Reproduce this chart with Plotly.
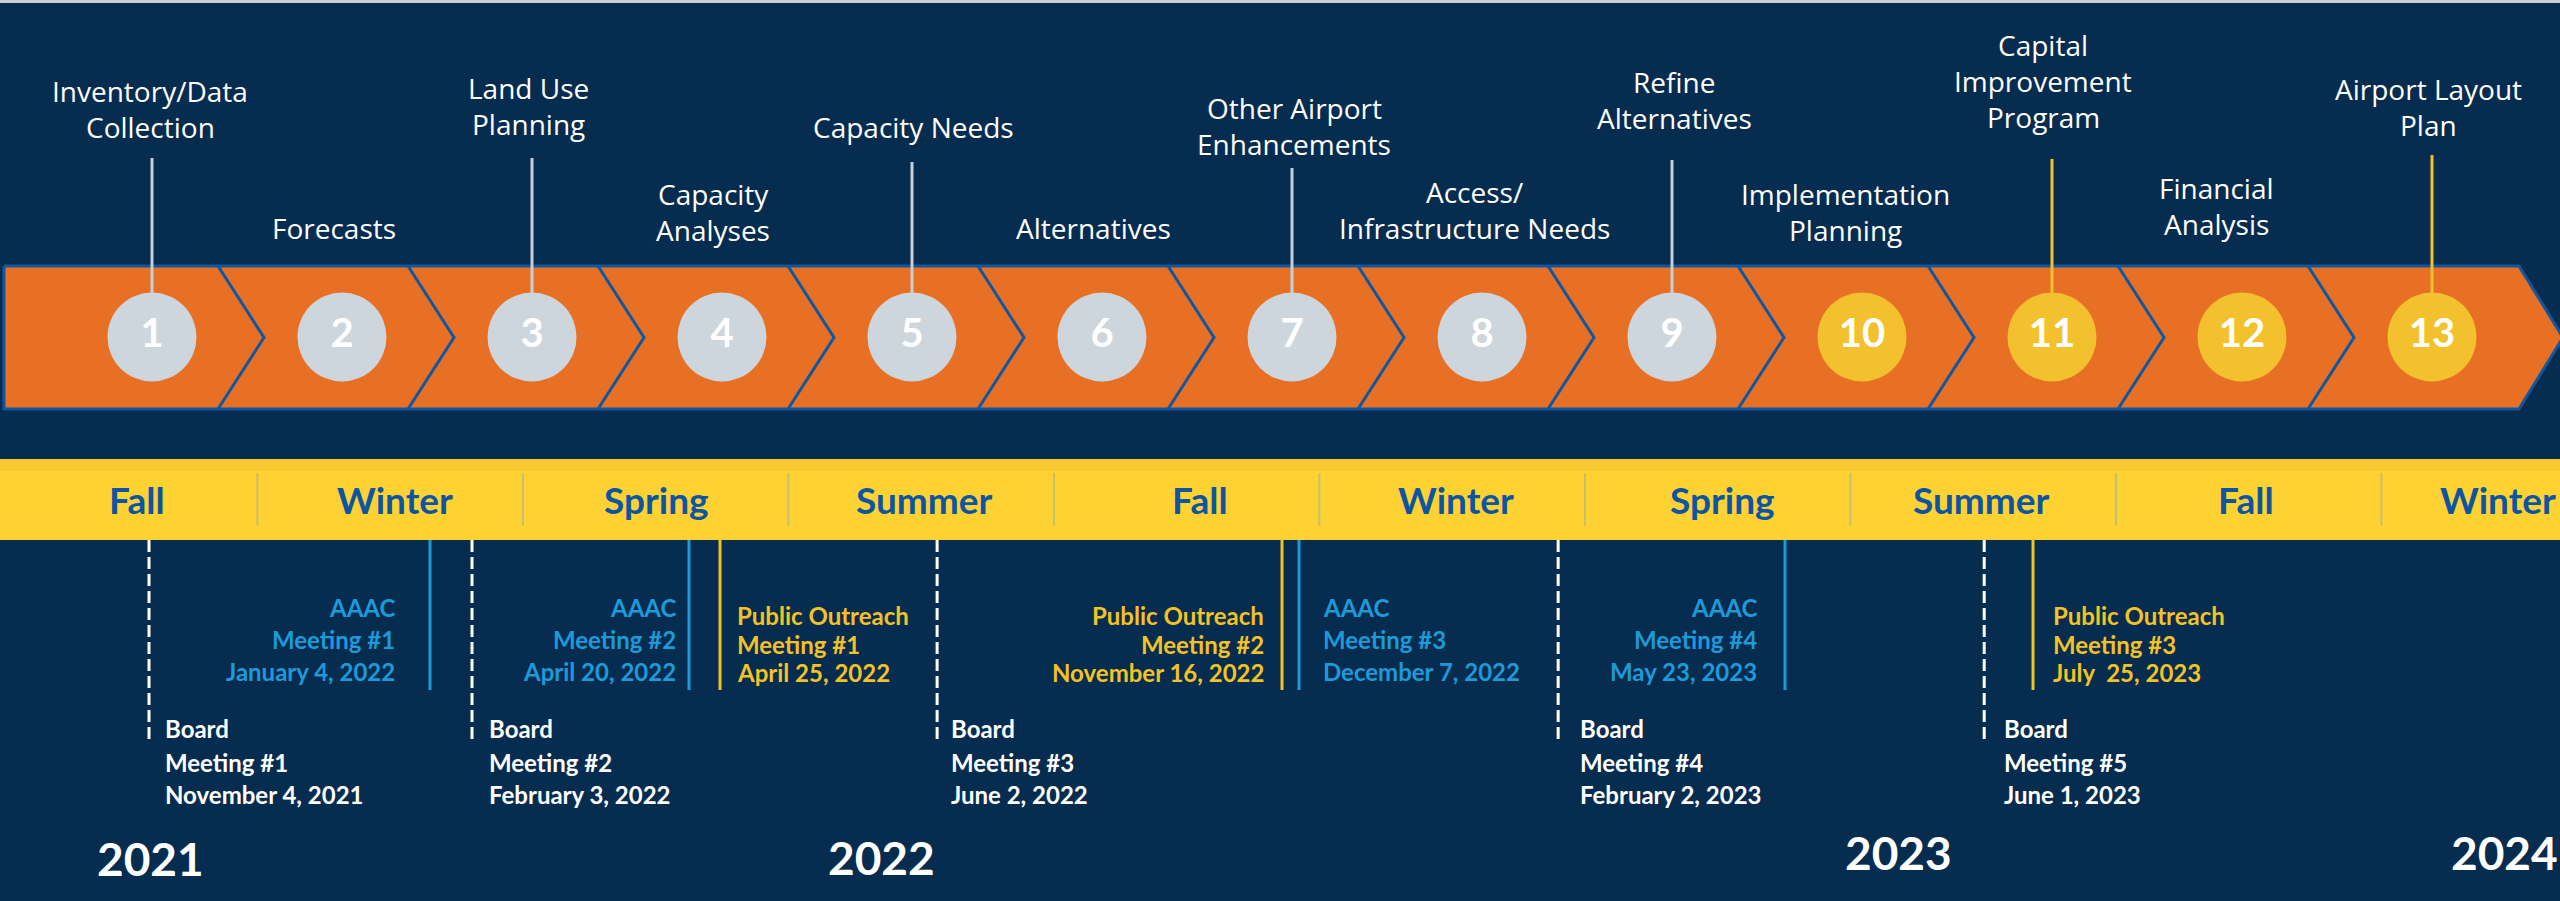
import plotly.graph_objects as go

# ---------------- data ----------------
STEP_NUMBERS = [1, 2, 3, 4, 5, 6, 7, 8, 9, 10, 11, 12, 13]
STEP_LABELS = [
    ["Inventory/Data", "Collection"],
    ["Forecasts"],
    ["Land Use", "Planning"],
    ["Capacity", "Analyses"],
    ["Capacity Needs"],
    ["Alternatives"],
    ["Other Airport", "Enhancements"],
    ["Access/", "Infrastructure Needs"],
    ["Refine", "Alternatives"],
    ["Implementation", "Planning"],
    ["Capital", "Improvement", "Program"],
    ["Financial", "Analysis"],
    ["Airport Layout", "Plan"],
]
STEP_STATUS = ["done", "done", "done", "done", "done", "done", "done", "done", "done",
               "upcoming", "upcoming", "upcoming", "upcoming"]
STEP_HAS_CONNECTOR = [True, False, True, False, True, False, True, False, True,
                      False, True, False, True]

SEASONS = ["Fall", "Winter", "Spring", "Summer", "Fall", "Winter",
           "Spring", "Summer", "Fall", "Winter"]
YEARS = ["2021", "2022", "2023", "2024"]

BOARD_TITLES = ["Board", "Board", "Board", "Board", "Board"]
BOARD_NAMES = ["Meeting #1", "Meeting #2", "Meeting #3", "Meeting #4", "Meeting #5"]
BOARD_DATES = ["November 4, 2021", "February 3, 2022", "June 2, 2022",
               "February 2, 2023", "June 1, 2023"]

AAAC_TITLES = ["AAAC", "AAAC", "AAAC", "AAAC"]
AAAC_NAMES = ["Meeting #1", "Meeting #2", "Meeting #3", "Meeting #4"]
AAAC_DATES = ["January 4, 2022", "April 20, 2022", "December 7, 2022", "May 23, 2023"]

PO_TITLES = ["Public Outreach", "Public Outreach", "Public Outreach"]
PO_NAMES = ["Meeting #1", "Meeting #2", "Meeting #3"]
PO_DATES = ["April 25, 2022", "November 16, 2022", "July\u00a0 25, 2023"]

# ---------------- layout (positions / styles) ----------------
W, H = 2560, 901
BG = "#062c50"
ORANGE = "#e87025"
OUTLINE = "#0f57a0"
GRAY_C = "#ced6dd"
YEL_C = "#f2c12d"
BAND_Y = "#fdd232"
SEASON_TXT = "#0d55a2"
AAAC_C = "#1e9ad8"
PO_C = "#f3c226"
LINE_GRAY = "#c6cfd8"
FONT = "Open Sans"
BOLD_FONT = "Lato"

# step axis: step i centred at 152 + 190*(i-1) px
STEP_RANGE = [0.2, 13.6737]
# season axis: season k centred at 124.65 + 265.5*k px
SEASON_RANGE = [-0.4695, 9.1727]

BAND_TOP, BAND_BOT = 266, 409
BAND_MID = (BAND_TOP + BAND_BOT) / 2
CIRCLE_Y = 337
CIRCLE_D = 89
LABEL_LAST_Y = [127, 228, 124, 230, 127, 228, 144, 228, 118, 230, 117, 224, 125]
LABEL_XSHIFT = [-2, -8, -4, -9, 1, -9, 2, -8, 2, -17, -9, -26, -4]
CONNECTOR_TOP = [158, None, 158, None, 162, None, 168, None, 160, None, 159, None, 155]
LABEL_LINE_H = 36

SEASON_BAND = (459, 540)
SEASON_Y = 499
SEASON_XSHIFT = [12, 5, 1, 3, 13, 4, 5, -2, -3, -16]

BOARD_POS = [0.0917, 1.3083, 3.0601, 5.3993, 7.0040]
BOARD_SHIFT = [14, 15, 12, 20, 18]
BOARD_LINE_Y = (540, 740)
BOARD_TEXT_Y = [728, 762, 794]

AAAC_POS = [1.1501, 2.1256, 4.4232, 6.2537]
AAAC_SHIFT = [-33, -11, 22, -26]
AAAC_ALIGN = ["right", "right", "left", "right"]
AAAC_LINE_Y = (540, 690)
AAAC_TEXT_Y = [607, 639, 671]

PO_POS = [2.2424, 4.3592, 7.1878]
PO_SHIFT = [15, -16, 18]
PO_ALIGN = ["left", "right", "left"]
PO_LINE_Y = (540, 690)
PO_TEXT_Y = [615, 644, 672]

YEAR_POS = [0.0992, 2.8488, 6.6793, 8.9655]
YEAR_Y = [858, 857, 852, 852]

fig = go.Figure()

# orange chevron band
x_left = STEP_RANGE[0] + 4 / 190
x_last_top = 1 + (2519 - 152) / 190
x_tip = 1 + (2563 - 152) / 190
fig.add_trace(go.Scatter(
    x=[x_left, x_last_top, x_tip, x_last_top, x_left, x_left],
    y=[BAND_TOP, BAND_TOP, BAND_MID, BAND_BOT, BAND_BOT, BAND_TOP],
    mode="lines", fill="toself", fillcolor=ORANGE,
    line=dict(color=OUTLINE, width=3), hoverinfo="skip", showlegend=False))

# chevron dividers between steps
dx, dy = [], []
for s in STEP_NUMBERS[:-1]:
    dx += [s + 66 / 190, s + 112 / 190, s + 66 / 190, None]
    dy += [BAND_TOP, BAND_MID, BAND_BOT, None]
fig.add_trace(go.Scatter(x=dx, y=dy, mode="lines",
                         line=dict(color=OUTLINE, width=3),
                         hoverinfo="skip", showlegend=False))

# connectors from labels to circles
for s, has, top, st in zip(STEP_NUMBERS, STEP_HAS_CONNECTOR, CONNECTOR_TOP, STEP_STATUS):
    if not has:
        continue
    fig.add_trace(go.Scatter(
        x=[s, s], y=[top, CIRCLE_Y - CIRCLE_D / 2 + 2], mode="lines",
        line=dict(color=LINE_GRAY if st == "done" else YEL_C, width=3),
        hoverinfo="skip", showlegend=False))

# circles with step numbers
fig.add_trace(go.Scatter(
    x=STEP_NUMBERS, y=[CIRCLE_Y] * len(STEP_NUMBERS),
    mode="markers+text",
    marker=dict(size=CIRCLE_D, color=[GRAY_C if s == "done" else YEL_C for s in STEP_STATUS],
                line=dict(width=0)),
    text=[str(n) for n in STEP_NUMBERS], textposition="middle center",
    textfont=dict(family=BOLD_FONT, size=40, color="white", weight="bold"),
    hoverinfo="skip", showlegend=False))

annotations = []

# step labels
for s, lines, ly, xs in zip(STEP_NUMBERS, STEP_LABELS, LABEL_LAST_Y, LABEL_XSHIFT):
    n = len(lines)
    for k, txt in enumerate(lines):
        annotations.append(dict(
            x=s, y=ly - (n - 1 - k) * LABEL_LINE_H, xref="x", yref="y",
            text=txt, showarrow=False, xanchor="center", yanchor="middle", xshift=xs,
            font=dict(family=FONT, size=28, color="white")))

# season band
shapes = [
    dict(type="rect", xref="paper", yref="y", x0=0, x1=1, y0=0, y1=3,
         fillcolor="#c9ced4", line=dict(width=0), layer="below"),
    dict(type="rect", xref="paper", yref="y", x0=0, x1=1,
         y0=SEASON_BAND[0], y1=SEASON_BAND[1],
         fillcolor=BAND_Y, line=dict(width=0), layer="below"),
    dict(type="rect", xref="paper", yref="y", x0=0, x1=1,
         y0=SEASON_BAND[0], y1=SEASON_BAND[0] + 12,
         fillcolor="#f8c92f", line=dict(width=0), layer="below"),
]
for k in range(len(SEASONS) - 1):
    shapes.append(dict(type="line", xref="x2", yref="y", x0=k + 0.5, x1=k + 0.5,
                       y0=473, y1=526, line=dict(color="#c5c06e", width=2)))
for k, (name, xs) in enumerate(zip(SEASONS, SEASON_XSHIFT)):
    annotations.append(dict(
        x=k, y=SEASON_Y, xref="x2", yref="y", text=name, showarrow=False,
        xanchor="center", yanchor="middle", xshift=xs,
        font=dict(family=BOLD_FONT, size=37, color=SEASON_TXT, weight="bold")))

# meeting lines
def vline(x, y0, y1, color, dash="solid"):
    fig.add_trace(go.Scatter(x=[x, x], y=[y0, y1], xaxis="x2", mode="lines",
                             line=dict(color=color, width=3, dash=dash),
                             hoverinfo="skip", showlegend=False))

for p in BOARD_POS:
    vline(p, BOARD_LINE_Y[0], BOARD_LINE_Y[1], "white", dash="12px,5px")
for p in AAAC_POS:
    vline(p, AAAC_LINE_Y[0], AAAC_LINE_Y[1], AAAC_C)
for p in PO_POS:
    vline(p, PO_LINE_Y[0], PO_LINE_Y[1], PO_C)

def meeting_text(x, lines, ys, color, align, shift):
    for txt, y in zip(lines, ys):
        annotations.append(dict(
            x=x, y=y, xref="x2", yref="y", text=txt, showarrow=False,
            xanchor=align, yanchor="middle", xshift=shift, align=align,
            font=dict(family=BOLD_FONT, size=24, color=color, weight="bold")))

for p, t, n, d, sh in zip(BOARD_POS, BOARD_TITLES, BOARD_NAMES, BOARD_DATES, BOARD_SHIFT):
    meeting_text(p, [t, n, d], BOARD_TEXT_Y, "white", "left", sh)
for p, t, n, d, al, sh in zip(AAAC_POS, AAAC_TITLES, AAAC_NAMES, AAAC_DATES, AAAC_ALIGN, AAAC_SHIFT):
    meeting_text(p, [t, n, d], AAAC_TEXT_Y, AAAC_C, al, sh)
for p, t, n, d, al, sh in zip(PO_POS, PO_TITLES, PO_NAMES, PO_DATES, PO_ALIGN, PO_SHIFT):
    meeting_text(p, [t, n, d], PO_TEXT_Y, PO_C, al, sh)

# years
for p, yr, yy in zip(YEAR_POS, YEARS, YEAR_Y):
    annotations.append(dict(
        x=p, y=yy, xref="x2", yref="y", text=yr, showarrow=False,
        xanchor="center", yanchor="middle",
        font=dict(family=BOLD_FONT, size=46, color="white", weight="bold")))

fig.update_layout(
    width=W, height=H, autosize=False,
    margin=dict(l=0, r=0, t=0, b=0, pad=0),
    paper_bgcolor=BG, plot_bgcolor=BG,
    xaxis=dict(range=STEP_RANGE, visible=False, fixedrange=True),
    xaxis2=dict(range=SEASON_RANGE, visible=False, overlaying="x", fixedrange=True),
    yaxis=dict(range=[H, 0], visible=False, fixedrange=True),
    shapes=shapes, annotations=annotations, showlegend=False,
)

fig.write_html(
    "out.html",
    config={"displayModeBar": False},
    post_script="document.body.style.margin='0px';document.body.style.overflow='hidden';",
)
